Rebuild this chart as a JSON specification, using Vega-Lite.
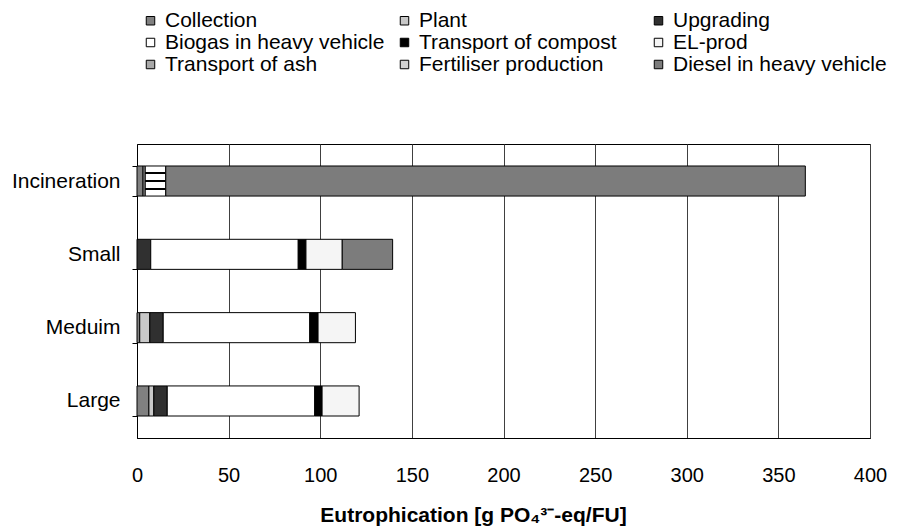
{
  "$schema": "https://vega.github.io/schema/vega-lite/v6.json",
  "width": 733,
  "height": 294,
  "autosize": {"type": "none"},
  "padding": {"left": 137, "top": 144, "right": 33, "bottom": 92},
  "background": "white",
  "config": {"font": "Liberation Sans", "view": {"stroke": "black", "strokeWidth": 1}},
  "data": {"values": [
    {"scenario": "Large", "stage": "Collection", "k": 1, "value": 6.5},
    {"scenario": "Large", "stage": "Plant", "k": 2, "value": 2.7},
    {"scenario": "Large", "stage": "Upgrading", "k": 3, "value": 7.3},
    {"scenario": "Large", "stage": "Biogas in heavy vehicle", "k": 4, "value": 80.5},
    {"scenario": "Large", "stage": "Transport of compost", "k": 5, "value": 4.0},
    {"scenario": "Large", "stage": "EL-prod", "k": 6, "value": 20.2},
    {"scenario": "Meduim", "stage": "Collection", "k": 1, "value": 1.5},
    {"scenario": "Meduim", "stage": "Plant", "k": 2, "value": 5.5},
    {"scenario": "Meduim", "stage": "Upgrading", "k": 3, "value": 7.3},
    {"scenario": "Meduim", "stage": "Biogas in heavy vehicle", "k": 4, "value": 80.0},
    {"scenario": "Meduim", "stage": "Transport of compost", "k": 5, "value": 4.5},
    {"scenario": "Meduim", "stage": "EL-prod", "k": 6, "value": 20.4},
    {"scenario": "Small", "stage": "Upgrading", "k": 3, "value": 7.5},
    {"scenario": "Small", "stage": "Biogas in heavy vehicle", "k": 4, "value": 80.5},
    {"scenario": "Small", "stage": "Transport of compost", "k": 5, "value": 4.2},
    {"scenario": "Small", "stage": "EL-prod", "k": 6, "value": 19.8},
    {"scenario": "Small", "stage": "Diesel in heavy vehicle", "k": 9, "value": 27.5},
    {"scenario": "Incineration", "stage": "Collection", "k": 1, "value": 3.3},
    {"scenario": "Incineration", "stage": "Transport of ash", "k": 7, "value": 1.2},
    {"scenario": "Incineration", "stage": "Fertiliser production", "k": 8, "value": 11.2},
    {"scenario": "Incineration", "stage": "Diesel in heavy vehicle", "k": 9, "value": 349}
  ]},
  "mark": {"type": "bar", "stroke": "black", "strokeWidth": 1},
  "encoding": {
    "y": {
      "field": "scenario", "type": "nominal",
      "sort": ["Incineration", "Small", "Meduim", "Large"],
      "scale": {"paddingInner": 0.59, "paddingOuter": 0.3},
      "axis": {"title": null, "tickBand": "extent", "tickSize": 5, "tickColor": "black", "domainColor": "black",
               "labelFontSize": 21, "labelColor": "black", "labelPadding": 12, "grid": false}
    },
    "x": {
      "field": "value", "type": "quantitative", "stack": "zero",
      "scale": {"domain": [0, 400], "nice": false},
      "axis": {"values": [0, 50, 100, 150, 200, 250, 300, 350, 400], "grid": true, "gridColor": "#404040",
               "gridOpacity": 1, "ticks": false, "domainColor": "black", "labelFontSize": 20, "labelColor": "black",
               "labelFlush": false, "labelPadding": 27, "title": "Eutrophication [g PO₄³⁻-eq/FU]", "titleFontSize": 21,
               "titleFontWeight": "bold", "titleColor": "black", "titlePadding": 19, "titleX": 336, "titleAlign": "center"}
    },
    "fill": {
      "condition": {"test": "datum.stage === 'Fertiliser production'",
        "value": {"gradient": "linear", "x1": 0, "y1": 0, "x2": 0, "y2": 1, "stops": [
          {"offset": 0, "color": "white"}, {"offset": 0.21, "color": "white"},
          {"offset": 0.21, "color": "black"}, {"offset": 0.28, "color": "black"},
          {"offset": 0.28, "color": "white"}, {"offset": 0.46, "color": "white"},
          {"offset": 0.46, "color": "black"}, {"offset": 0.53, "color": "black"},
          {"offset": 0.53, "color": "white"}, {"offset": 0.72, "color": "white"},
          {"offset": 0.72, "color": "black"}, {"offset": 0.79, "color": "black"},
          {"offset": 0.79, "color": "white"}, {"offset": 1, "color": "white"}]}},
      "field": "stage", "type": "nominal",
      "scale": {
        "domain": ["Collection", "Plant", "Upgrading", "Biogas in heavy vehicle", "Transport of compost", "EL-prod", "Transport of ash", "Fertiliser production", "Diesel in heavy vehicle"],
        "range": ["#808080", "#c8c8c8", "#303030", "#ffffff", "#000000", "#f5f5f5", "#a8a8a8", "#d0d0d0", "#7c7c7c"]
      },
      "legend": {
        "title": null, "orient": "none", "legendX": 3, "legendY": -134, "columns": 3, "direction": "horizontal",
        "gridAlign": "all", "padding": 0, "columnPadding": 9, "rowPadding": 0, "symbolType": "square", "symbolSize": 72,
        "symbolStrokeColor": "black", "symbolStrokeWidth": 1, "labelFontSize": 21, "labelColor": "black",
        "labelOffset": 4, "labelLimit": 400
      }
    },
    "order": {"field": "k", "type": "quantitative"}
  }
}
